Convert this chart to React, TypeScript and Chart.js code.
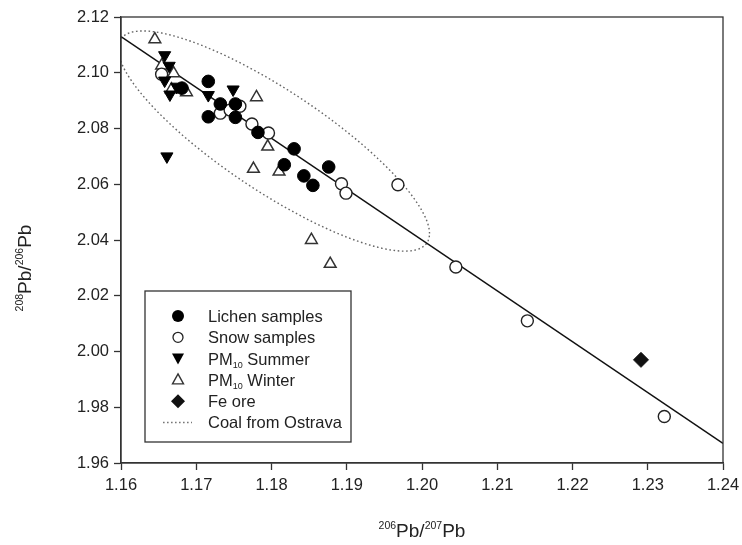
import React, { useEffect, useRef } from 'react';
import { Chart, registerables } from 'chart.js';

Chart.register(...registerables);

// 206Pb/207Pb (x) and 208Pb/206Pb (y) for each sample group
const lichenX = [1.1716, 1.1681, 1.1716, 1.1732, 1.1752, 1.1752, 1.1782, 1.1830, 1.1817, 1.1843, 1.1855, 1.1876];
const lichenY = [2.0969, 2.0945, 2.0842, 2.0888, 2.0888, 2.0840, 2.0786, 2.0727, 2.0670, 2.0630, 2.0596, 2.0662];

const snowX = [1.1654, 1.1732, 1.1745, 1.1758, 1.1774, 1.1796, 1.1893, 1.1899, 1.1968, 1.2045, 1.2140, 1.2322];
const snowY = [2.0995, 2.0855, 2.0866, 2.0880, 2.0816, 2.0784, 2.0602, 2.0568, 2.0598, 2.0303, 2.0110, 1.9767];

const summerX = [1.1658, 1.1664, 1.1658, 1.1674, 1.1665, 1.1716, 1.1749, 1.1661];
const summerY = [2.1063, 2.1025, 2.0972, 2.0950, 2.0922, 2.0920, 2.0940, 2.0700];

const winterX = [1.1645, 1.1654, 1.1670, 1.1667, 1.1687, 1.1780, 1.1795, 1.1776, 1.1810, 1.1853, 1.1878];
const winterY = [2.1120, 2.1026, 2.0998, 2.0940, 2.0930, 2.0912, 2.0735, 2.0655, 2.0645, 2.0400, 2.0314];

const feOreX = [1.2291];
const feOreY = [1.9970];

// linear regression through all samples
const regressionX = [1.16, 1.24];
const regressionY = [2.113, 1.967];

// Ostrava coal field: centre and conjugate half-axes in data units
const coalCentre = [1.1803, 2.0755];
const coalAxisA = [0.0207, -0.0332];
const coalAxisB = [0.0, 0.0214];

const xTicks = [1.16, 1.17, 1.18, 1.19, 1.2, 1.21, 1.22, 1.23, 1.24];
const yTicks = [1.96, 1.98, 2.0, 2.02, 2.04, 2.06, 2.08, 2.1, 2.12];

const legendLabels = ['Lichen samples', 'Snow samples', 'PM10 Summer', 'PM10 Winter', 'Fe ore', 'Coal from Ostrava'];

const FONT = '"Liberation Sans", Arial, Helvetica, sans-serif';

const toPoints = (xs: number[], ys: number[]) => xs.map((x, i) => ({ x, y: ys[i] }));

type Part = { t: string; sup?: boolean; sub?: boolean };

function drawRich(ctx: CanvasRenderingContext2D, parts: Part[], cx: number, cy: number, big: number, small: number, align: 'center' | 'left') {
  ctx.textBaseline = 'alphabetic';
  ctx.textAlign = 'left';
  const widths = parts.map((p) => {
    ctx.font = `${p.sup || p.sub ? small : big}px ${FONT}`;
    return ctx.measureText(p.t).width;
  });
  const total = widths.reduce((a, b) => a + b, 0);
  let x = align === 'center' ? cx - total / 2 : cx;
  const base = cy + big * 0.36;
  parts.forEach((p, i) => {
    ctx.font = `${p.sup || p.sub ? small : big}px ${FONT}`;
    let y = base;
    if (p.sup) y = base - big * 0.42;
    if (p.sub) y = base + big * 0.2;
    ctx.fillText(p.t, x, y);
    x += widths[i];
  });
}

const framePlugin = {
  id: 'frame',
  afterDatasetsDraw(chart: any) {
    const { ctx, chartArea: a } = chart;
    ctx.save();
    ctx.strokeStyle = '#333';
    ctx.lineWidth = 1.3;
    ctx.strokeRect(a.left, a.top, a.right - a.left, a.bottom - a.top);
    ctx.restore();
  },
};

const coalPlugin = {
  id: 'coalEllipse',
  beforeDatasetsDraw(chart: any) {
    const { ctx, chartArea: a, scales } = chart;
    ctx.save();
    ctx.beginPath();
    ctx.rect(a.left, a.top, a.right - a.left, a.bottom - a.top);
    ctx.clip();
    ctx.beginPath();
    const steps = 180;
    for (let i = 0; i <= steps; i++) {
      const t = (i / steps) * Math.PI * 2;
      const vx = coalCentre[0] + coalAxisA[0] * Math.cos(t) + coalAxisB[0] * Math.sin(t);
      const vy = coalCentre[1] + coalAxisA[1] * Math.cos(t) + coalAxisB[1] * Math.sin(t);
      const px = scales.x.getPixelForValue(vx);
      const py = scales.y.getPixelForValue(vy);
      if (i === 0) ctx.moveTo(px, py);
      else ctx.lineTo(px, py);
    }
    ctx.setLineDash([1.6, 2.6]);
    ctx.strokeStyle = '#666';
    ctx.lineWidth = 1.4;
    ctx.stroke();
    ctx.restore();
  },
};

function drawMarker(ctx: CanvasRenderingContext2D, kind: number, x: number, y: number) {
  ctx.save();
  ctx.setLineDash([]);
  ctx.beginPath();
  if (kind === 0) {
    ctx.arc(x, y, 6, 0, Math.PI * 2);
    ctx.fillStyle = '#000';
    ctx.fill();
  } else if (kind === 1) {
    ctx.arc(x, y, 5, 0, Math.PI * 2);
    ctx.fillStyle = '#fff';
    ctx.fill();
    ctx.strokeStyle = '#222';
    ctx.lineWidth = 1.3;
    ctx.stroke();
  } else if (kind === 2) {
    ctx.moveTo(x - 6, y - 5);
    ctx.lineTo(x + 6, y - 5);
    ctx.lineTo(x, y + 6);
    ctx.closePath();
    ctx.fillStyle = '#000';
    ctx.fill();
  } else if (kind === 3) {
    ctx.moveTo(x, y - 6);
    ctx.lineTo(x + 5.5, y + 4);
    ctx.lineTo(x - 5.5, y + 4);
    ctx.closePath();
    ctx.strokeStyle = '#333';
    ctx.lineWidth = 1.4;
    ctx.stroke();
  } else if (kind === 4) {
    ctx.moveTo(x, y - 7);
    ctx.lineTo(x + 7, y);
    ctx.lineTo(x, y + 7);
    ctx.lineTo(x - 7, y);
    ctx.closePath();
    ctx.fillStyle = '#111';
    ctx.fill();
  } else {
    ctx.moveTo(x - 15, y);
    ctx.lineTo(x + 14, y);
    ctx.setLineDash([1.6, 2.4]);
    ctx.strokeStyle = '#777';
    ctx.lineWidth = 1.3;
    ctx.stroke();
  }
  ctx.restore();
}

const legendPlugin = {
  id: 'boxLegend',
  afterDraw(chart: any) {
    const { ctx, chartArea: a } = chart;
    const w = 206;
    const h = 151;
    const left = a.left + 24;
    const top = a.bottom - 21 - h;
    ctx.save();
    ctx.fillStyle = '#fff';
    ctx.fillRect(left, top, w, h);
    ctx.strokeStyle = '#333';
    ctx.lineWidth = 1.3;
    ctx.strokeRect(left, top, w, h);
    legendLabels.forEach((label, i) => {
      const y = top + 25 + i * 21.3;
      drawMarker(ctx, i, left + 33, y);
      ctx.fillStyle = '#222';
      if (label.startsWith('PM10')) {
        drawRich(ctx, [{ t: 'PM' }, { t: '10', sub: true }, { t: label.slice(4) }], left + 63, y, 16.5, 9, 'left');
      } else {
        drawRich(ctx, [{ t: label }], left + 63, y, 16.5, 9, 'left');
      }
    });
    ctx.restore();
  },
};

const titlePlugin = {
  id: 'richTitles',
  afterDraw(chart: any) {
    const { ctx, chartArea: a } = chart;
    ctx.save();
    ctx.fillStyle = '#222';
    drawRich(ctx, [{ t: '206', sup: true }, { t: 'Pb/' }, { t: '207', sup: true }, { t: 'Pb' }], (a.left + a.right) / 2, a.bottom + 67, 19, 10.5, 'center');
    ctx.translate(24, (a.top + a.bottom) / 2 + 28);
    ctx.rotate(-Math.PI / 2);
    drawRich(ctx, [{ t: '208', sup: true }, { t: 'Pb/' }, { t: '206', sup: true }, { t: 'Pb' }], 0, 0, 19, 10.5, 'center');
    ctx.restore();
  },
};

export default function App() {
  const canvasRef = useRef<HTMLCanvasElement | null>(null);

  useEffect(() => {
    const canvas = canvasRef.current;
    if (!canvas) return;
    const tickFont = { family: FONT, size: 16.5 };
    const chart = new Chart(canvas, {
      type: 'scatter',
      data: {
        datasets: [
          {
            label: legendLabels[0],
            data: toPoints(lichenX, lichenY),
            pointStyle: 'circle',
            pointRadius: 6.3,
            backgroundColor: '#000',
            borderColor: '#000',
            borderWidth: 1,
            order: 2,
          },
          {
            label: legendLabels[1],
            data: toPoints(snowX, snowY),
            pointStyle: 'circle',
            pointRadius: 6,
            backgroundColor: '#fff',
            borderColor: '#222',
            borderWidth: 1.4,
            order: 3,
          },
          {
            label: legendLabels[2],
            data: toPoints(summerX, summerY),
            pointStyle: 'triangle',
            rotation: 180,
            pointRadius: 7,
            backgroundColor: '#000',
            borderColor: '#000',
            borderWidth: 1,
            order: 1,
          },
          {
            label: legendLabels[3],
            data: toPoints(winterX, winterY),
            pointStyle: 'triangle',
            pointRadius: 6.8,
            backgroundColor: '#fff',
            borderColor: '#333',
            borderWidth: 1.5,
            order: 4,
          },
          {
            label: legendLabels[4],
            data: toPoints(feOreX, feOreY),
            pointStyle: 'rectRot',
            pointRadius: 7.5,
            backgroundColor: '#111',
            borderColor: '#111',
            borderWidth: 1,
            order: 0,
          },
          {
            type: 'line',
            label: 'regression',
            data: toPoints(regressionX, regressionY),
            borderColor: '#111',
            borderWidth: 1.5,
            pointRadius: 0,
            fill: false,
            order: 5,
          } as any,
        ],
      },
      options: {
        responsive: false,
        animation: false,
        events: [],
        layout: { padding: { top: 17, right: 0, left: 0, bottom: 0 } },
        plugins: {
          legend: { display: false },
          tooltip: { enabled: false },
        },
        scales: {
          x: {
            type: 'linear',
            min: 1.16,
            max: 1.24,
            afterBuildTicks: (s: any) => {
              s.ticks = xTicks.map((value) => ({ value }));
            },
            afterFit: (s: any) => {
              s.height = 82;
              s.paddingRight = 19;
              s.paddingLeft = 0;
            },
            ticks: {
              callback: (v: any) => Number(v).toFixed(2),
              font: tickFont,
              color: '#222',
              padding: 6,
              maxRotation: 0,
              autoSkip: false,
            },
            grid: { display: true, drawOnChartArea: false, drawTicks: true, tickLength: 7, tickColor: '#333', tickWidth: 1.3 },
            border: { display: true, color: '#333', width: 1.3 },
          },
          y: {
            type: 'linear',
            min: 1.96,
            max: 2.12,
            afterBuildTicks: (s: any) => {
              s.ticks = yTicks.map((value) => ({ value }));
            },
            afterFit: (s: any) => {
              s.width = 121;
            },
            ticks: {
              callback: (v: any) => Number(v).toFixed(2),
              font: tickFont,
              color: '#222',
              padding: 5,
              autoSkip: false,
            },
            grid: { display: true, drawOnChartArea: false, drawTicks: true, tickLength: 7, tickColor: '#333', tickWidth: 1.3 },
            border: { display: true, color: '#333', width: 1.3 },
          },
        },
      },
      plugins: [coalPlugin, framePlugin, legendPlugin, titlePlugin],
    });
    return () => chart.destroy();
  }, []);

  return (
    <div style={{ position: 'absolute', left: 0, top: 0, width: 742, height: 545, background: '#fff' }}>
      <canvas ref={canvasRef} width={742} height={545} />
    </div>
  );
}
